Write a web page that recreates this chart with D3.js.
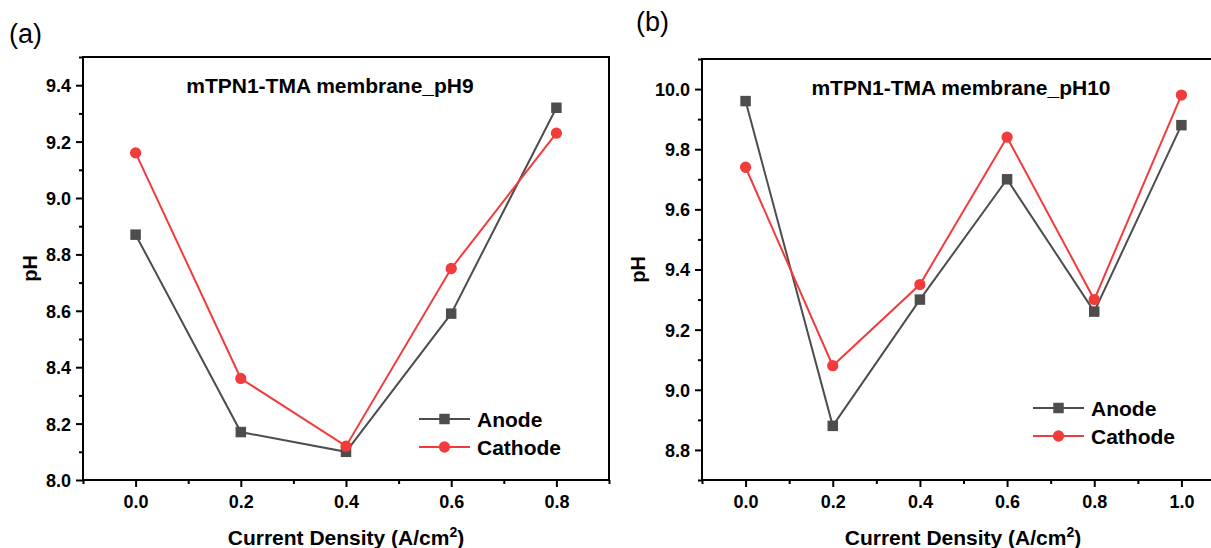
<!DOCTYPE html>
<html>
<head>
<meta charset="utf-8">
<script src="https://cdnjs.cloudflare.com/ajax/libs/d3/7.8.5/d3.min.js"></script>
<style>
  body { margin: 0; background: #fff; }
  svg { display: block; font-family: "Liberation Sans", Arial, sans-serif; }
  .tick text { font-weight: bold; font-size: 18px; fill: #000; }
</style>
</head>
<body>
<svg id="chart" width="1211" height="548"></svg>
<script>
// panel (a): pH9
var densA = [0.0, 0.2, 0.4, 0.6, 0.8];
var anodeA = [8.87, 8.17, 8.10, 8.59, 9.32];
var cathodeA = [9.16, 8.36, 8.12, 8.75, 9.23];
var xTicksA = [0.0, 0.2, 0.4, 0.6, 0.8];
var yTicksA = [8.0, 8.2, 8.4, 8.6, 8.8, 9.0, 9.2, 9.4];

// panel (b): pH10
var densB = [0.0, 0.2, 0.4, 0.6, 0.8, 1.0];
var anodeB = [9.96, 8.88, 9.30, 9.70, 9.26, 9.88];
var cathodeB = [9.74, 9.08, 9.35, 9.84, 9.30, 9.98];
var xTicksB = [0.0, 0.2, 0.4, 0.6, 0.8, 1.0];
var yTicksB = [8.8, 9.0, 9.2, 9.4, 9.6, 9.8, 10.0];

var anodeColor = "#4d4d4d",
    cathodeColor = "#f23b3b";

var svg = d3.select("#chart");

function panel(opt) {
  var x = d3.scaleLinear().domain(opt.xDomain).range([opt.left, opt.right]);
  var y = d3.scaleLinear().domain(opt.yDomain).range([opt.bottom, opt.top]);
  var g = svg.append("g");

  // minor ticks
  var xMinor = d3.range(opt.xDomain[0], opt.xDomain[1] + 1e-9, 0.1)
      .filter(function(v) { return Math.abs(Math.round(v * 10) % 2) === 1; });
  var yMinor = d3.range(opt.yDomain[0], opt.yDomain[1] + 1e-9, 0.1)
      .filter(function(v) { return Math.abs(Math.round(v * 10) % 2) === 1; });

  g.append("g")
      .attr("transform", "translate(0," + opt.bottom + ")")
      .call(d3.axisBottom(x).tickValues(xMinor).tickSize(4).tickFormat(""))
      .call(function(a) { a.select(".domain").remove(); a.selectAll("line").attr("stroke-width", 2); });
  g.append("g")
      .attr("transform", "translate(" + opt.left + ",0)")
      .call(d3.axisLeft(y).tickValues(yMinor).tickSize(4).tickFormat(""))
      .call(function(a) { a.select(".domain").remove(); a.selectAll("line").attr("stroke-width", 2); });

  g.append("g")
      .attr("transform", "translate(0," + opt.bottom + ")")
      .call(d3.axisBottom(x).tickValues(opt.xTicks).tickSize(7).tickPadding(8).tickFormat(d3.format(".1f")))
      .call(function(a) {
        a.select(".domain").remove();
        a.selectAll("line").attr("stroke-width", 2);
      });
  g.append("g")
      .attr("transform", "translate(" + opt.left + ",0)")
      .call(d3.axisLeft(y).tickValues(opt.yTicks).tickSize(7).tickPadding(5).tickFormat(d3.format(".1f")))
      .call(function(a) {
        a.select(".domain").remove();
        a.selectAll("line").attr("stroke-width", 2);
        a.selectAll("text").attr("dy", "0.36em");
      });

  // frame
  g.append("rect")
      .attr("x", opt.left).attr("y", opt.top)
      .attr("width", opt.right - opt.left).attr("height", opt.bottom - opt.top)
      .attr("fill", "none").attr("stroke", "#000").attr("stroke-width", 2);

  var series = [
    {vals: opt.anode, color: anodeColor, shape: "square", name: "Anode"},
    {vals: opt.cathode, color: cathodeColor, shape: "circle", name: "Cathode"}
  ];

  var line = d3.line()
      .x(function(d) { return x(d[0]); })
      .y(function(d) { return y(d[1]); });

  series.forEach(function(s) {
    var pts = opt.dens.map(function(d, i) { return [d, s.vals[i]]; });
    g.append("path")
        .datum(pts)
        .attr("fill", "none")
        .attr("stroke", s.color)
        .attr("stroke-width", 2)
        .attr("d", line);
    var sym = d3.symbol().type(s.shape === "square" ? d3.symbolSquare : d3.symbolCircle)
        .size(s.shape === "square" ? 110 : 100);
    g.selectAll(null)
        .data(pts)
        .enter().append("path")
        .attr("transform", function(d) { return "translate(" + x(d[0]) + "," + y(d[1]) + ")"; })
        .attr("d", sym)
        .attr("fill", s.color);
  });

  // legend
  series.forEach(function(s, i) {
    var ly = opt.legY + i * 28;
    g.append("line")
        .attr("x1", opt.legX).attr("x2", opt.legX + 51)
        .attr("y1", ly).attr("y2", ly)
        .attr("stroke", s.color).attr("stroke-width", 2);
    g.append("path")
        .attr("transform", "translate(" + (opt.legX + 25.5) + "," + ly + ")")
        .attr("d", d3.symbol().type(s.shape === "square" ? d3.symbolSquare : d3.symbolCircle)
            .size(s.shape === "square" ? 110 : 100))
        .attr("fill", s.color);
    g.append("text")
        .attr("x", opt.legX + 58).attr("y", ly)
        .attr("dy", "0.36em")
        .attr("font-size", 21).attr("font-weight", "bold")
        .text(s.name);
  });

  // title
  g.append("text")
      .attr("x", opt.titleX).attr("y", opt.titleY)
      .attr("text-anchor", "middle")
      .attr("font-size", 21).attr("font-weight", "bold")
      .text(opt.title);

  // axis titles
  var xt = g.append("text")
      .attr("x", opt.xTitleX).attr("y", 545)
      .attr("text-anchor", "middle")
      .attr("font-size", 21).attr("font-weight", "bold");
  xt.append("tspan").text("Current Density (A/cm");
  xt.append("tspan").attr("dy", -8).attr("font-size", 14).text("2");
  xt.append("tspan").attr("dy", 8).text(")");

  g.append("text")
      .attr("transform", "translate(" + opt.yTitleX + "," + ((opt.top + opt.bottom) / 2) + ") rotate(-90)")
      .attr("text-anchor", "middle")
      .attr("font-size", 20).attr("font-weight", "bold")
      .text("pH");

  // panel letter
  svg.append("text")
      .attr("x", opt.letterX).attr("y", opt.letterY)
      .attr("font-size", 27)
      .text(opt.letter);
}

panel({
  xDomain: [-0.1, 0.9], yDomain: [8.0, 9.5],
  left: 83, right: 609, top: 57, bottom: 480,
  dens: densA, anode: anodeA, cathode: cathodeA,
  xTicks: xTicksA, yTicks: yTicksA,
  legX: 419, legY: 419,
  title: "mTPN1-TMA membrane_pH9", titleX: 330, titleY: 93,
  xTitleX: 346, yTitleX: 37,
  letter: "(a)", letterX: 9, letterY: 43
});

panel({
  xDomain: [-0.1, 1.1], yDomain: [8.7, 10.1],
  left: 702, right: 1225, top: 59, bottom: 480,
  dens: densB, anode: anodeB, cathode: cathodeB,
  xTicks: xTicksB, yTicks: yTicksB,
  legX: 1033, legY: 408,
  title: "mTPN1-TMA membrane_pH10", titleX: 961, titleY: 95,
  xTitleX: 963, yTitleX: 645,
  letter: "(b)", letterX: 636, letterY: 31
});
</script>
</body>
</html>
